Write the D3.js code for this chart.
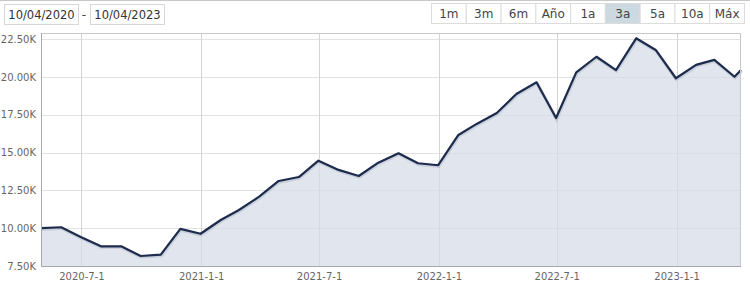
<!DOCTYPE html>
<html>
<head>
<meta charset="utf-8">
<script src="https://cdn.jsdelivr.net/npm/d3@7"></script>
<style>
	body { margin: 0; background: #fff; font-family: Verdana, "DejaVu Sans", sans-serif; }
	svg { display: block; }
</style>
</head>
<body>
<script>
// monthly closes
const dates = [
	"2020-04-30", "2020-05-31", "2020-06-30", "2020-07-31", "2020-08-31", "2020-09-30",
	"2020-10-31", "2020-11-30", "2020-12-31", "2021-01-31", "2021-02-28", "2021-03-31",
	"2021-04-30", "2021-05-31", "2021-06-30", "2021-07-31", "2021-08-31", "2021-09-30",
	"2021-10-31", "2021-11-30", "2021-12-31", "2022-01-31", "2022-02-28", "2022-03-31",
	"2022-04-30", "2022-05-31", "2022-06-30", "2022-07-31", "2022-08-31", "2022-09-30",
	"2022-10-31", "2022-11-30", "2022-12-31", "2023-01-31", "2023-02-28", "2023-03-31",
	"2023-04-10"
];
const values = [
	10000, 10060, 9420, 8800, 8800, 8160,
	8250, 9950, 9630, 10540, 11200, 12080,
	13120, 13380, 14460, 13850, 13450, 14330,
	14950, 14290, 14160, 16160, 16890, 17610,
	18870, 19640, 17280, 20300, 21330, 20450,
	22550, 21780, 19910, 20790, 21120, 20010,
	20450
];
const yTicks = [7500, 10000, 12500, 15000, 17500, 20000, 22500];
const xTicks = ["2020-07-01", "2021-01-01", "2021-07-01", "2022-01-01", "2022-07-01", "2023-01-01"];
const buttons = ["1m", "3m", "6m", "Año", "1a", "3a", "5a", "10a", "Máx"];
const selected = "3a";
const range = ["10/04/2020", "10/04/2023"];

const W = 750, H = 284;
const pLeft = 41, pRight = 741, pTop = 33, pBottom = 266;

const parse = d3.timeParse("%Y-%m-%d");
const data = dates.map((d, i) => ({ date: parse(d), value: values[i] }));

const svg = d3.select("body").append("svg").attr("width", W).attr("height", H);

// top bar
svg.append("line").attr("x1", 0).attr("x2", W).attr("y1", 0.5).attr("y2", 0.5)
	.attr("stroke", "#c8c8c8");

const inputs = svg.append("g");
const boxX = [4, 90];
range.forEach((t, i) => {
	inputs.append("rect")
		.attr("x", boxX[i] + 0.5).attr("y", 4.5).attr("width", 74).attr("height", 20)
		.attr("fill", "#fff").attr("stroke", "#d8d8d8");
	inputs.append("text")
		.attr("x", boxX[i] + 37.5).attr("y", 19)
		.attr("text-anchor", "middle").attr("font-size", 11.5).attr("fill", "#333")
		.text(t);
});
inputs.append("text").attr("x", 84).attr("y", 18.5).attr("text-anchor", "middle")
	.attr("font-size", 12).attr("fill", "#444").text("-");

const bx = d3.scaleBand().domain(buttons).range([431, 744]);
const btn = svg.append("g").selectAll("g").data(buttons).enter().append("g")
	.attr("transform", (d) => `translate(${bx(d)},3)`);
btn.append("rect")
	.attr("x", 0.5).attr("y", 0.5).attr("width", bx.bandwidth()).attr("height", 20)
	.attr("fill", (d) => (d == selected ? "#cdd9e0" : "#fff"))
	.attr("stroke", "#dcdcdc");
btn.append("text")
	.attr("x", bx.bandwidth() / 2 + 0.5).attr("y", 15)
	.attr("text-anchor", "middle").attr("font-size", 12).attr("fill", "#444")
	.text((d) => d);

// scales
const x = d3.scaleTime()
	.domain([data[0].date, data[data.length - 1].date])
	.range([pLeft, pRight]);
const y = d3.scaleLinear()
	.domain([7500, 7500 + (pBottom - pTop) / 15.13 * 1000])
	.range([pBottom, pTop]);

// grid
svg.append("g").selectAll("line").data(yTicks).enter().append("line")
	.attr("x1", pLeft).attr("x2", pRight)
	.attr("y1", (d) => Math.round(y(d)) + 0.5).attr("y2", (d) => Math.round(y(d)) + 0.5)
	.attr("stroke", "#e2e2e2");
svg.append("g").selectAll("line").data(xTicks).enter().append("line")
	.attr("x1", (d) => Math.round(x(parse(d))) + 0.5).attr("x2", (d) => Math.round(x(parse(d))) + 0.5)
	.attr("y1", pTop).attr("y2", pBottom)
	.attr("stroke", "#d4d4d4");

// area + line
const area = d3.area().x((d) => x(d.date)).y0(pBottom).y1((d) => y(d.value));
const line = d3.line().x((d) => x(d.date)).y((d) => y(d.value));

svg.append("path").datum(data).attr("d", area)
	.attr("fill", "#d6dce7").attr("fill-opacity", 0.72);
svg.append("path").datum(data).attr("d", line)
	.attr("fill", "none").attr("stroke", "#9aa3b5").attr("stroke-width", 3.5)
	.attr("stroke-opacity", 0.35).attr("transform", "translate(0.5,1)");
svg.append("path").datum(data).attr("d", line)
	.attr("fill", "none").attr("stroke", "#1d2b4c").attr("stroke-width", 2.2)
	.attr("stroke-linejoin", "round");

// frame
svg.append("rect")
	.attr("x", pLeft + 0.5).attr("y", pTop + 0.5)
	.attr("width", pRight - pLeft - 1).attr("height", pBottom - pTop)
	.attr("fill", "none").attr("stroke", "#c8c8c8");
svg.append("path")
	.attr("d", `M${pLeft + 0.5},${pTop}V${pBottom + 0.5}H${pRight}`)
	.attr("fill", "none").attr("stroke", "#a8a8a8");

// axes
const yAxis = d3.axisLeft(y).tickValues(yTicks).tickSize(0).tickPadding(5)
	.tickFormat((d) => (d / 1000).toFixed(2) + "K");
const gy = svg.append("g").attr("transform", `translate(${pLeft},0)`).call(yAxis);
gy.select(".domain").remove();
gy.selectAll("text").attr("font-family", "Verdana, 'DejaVu Sans', sans-serif")
	.attr("font-size", 10).attr("fill", "#666");

const xAxis = d3.axisBottom(x).tickValues(xTicks.map(parse)).tickSize(0).tickPadding(7)
	.tickFormat((d) => `${d.getFullYear()}-${d.getMonth() + 1}-${d.getDate()}`);
const gx = svg.append("g").attr("transform", `translate(0,${pBottom})`).call(xAxis);
gx.select(".domain").remove();
gx.selectAll("text").attr("font-family", "Verdana, 'DejaVu Sans', sans-serif")
	.attr("font-size", 10).attr("fill", "#666");
</script>
</body>
</html>
